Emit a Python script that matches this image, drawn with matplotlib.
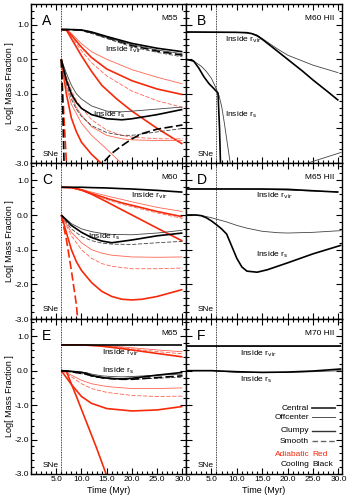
import matplotlib.pyplot as plt
import numpy as np
from matplotlib.ticker import MultipleLocator, FormatStrFormatter

plt.rcParams['font.family'] = ['Liberation Sans', 'DejaVu Sans']
plt.rcParams['axes.unicode_minus'] = False

# ---------------- data (Myr, log mass fraction) ----------------
# Panel A  M55
a_t = [6, 7, 8, 10, 12, 15, 20, 25, 30]
a_vir_k_cc = [0.86, 0.86, 0.86, 0.85, 0.79, 0.66, 0.46, 0.32, 0.22]
a_vir_k_oc = [0.86, 0.86, 0.86, 0.84, 0.77, 0.63, 0.42, 0.27, 0.16]
a_vir_k_cs = [0.86, 0.86, 0.86, 0.84, 0.77, 0.63, 0.40, 0.24, 0.12]
a_vir_k_os = [0.86, 0.86, 0.86, 0.83, 0.75, 0.60, 0.36, 0.20, 0.07]
a_vir_r_oc = [0.86, 0.86, 0.75, 0.45, 0.22, 0.00, -0.30, -0.52, -0.71]
a_vir_r_cc = [0.86, 0.86, 0.70, 0.35, 0.05, -0.28, -0.62, -0.86, -1.02]
a_vir_r_os = [0.86, 0.86, 0.66, 0.25, -0.10, -0.48, -0.92, -1.20, -1.39]
a_vir_r_cs_t = [6, 7, 8, 10, 12, 14, 17, 20, 25, 30]
a_vir_r_cs = [0.86, 0.85, 0.60, 0.10, -0.35, -0.75, -1.15, -1.50, -2.00, -2.45]

a_s_t = [6, 7, 8, 9, 10, 12, 15, 18, 20, 25, 30]
a_s_k_cc = [0, -0.60, -1.00, -1.25, -1.42, -1.60, -1.72, -1.75, -1.72, -1.60, -1.45]
a_s_k_oc = [0, -0.40, -0.75, -1.00, -1.15, -1.35, -1.50, -1.52, -1.50, -1.44, -1.38]
a_s_k_os = [0, -0.70, -1.15, -1.45, -1.65, -1.92, -2.12, -2.20, -2.20, -2.10, -2.00]
a_s_k_cs_t = [6, 6.3, 6.7, 13.5, 14.2, 16, 18, 20, 22, 25, 30]
a_s_k_cs = [0, -1.5, -4.0, -4.0, -3.0, -2.72, -2.50, -2.30, -2.15, -2.02, -1.90]
a_s_r_cs_t = [6, 6.5, 7.2]
a_s_r_cs = [0, -1.6, -3.5]
a_s_r_cc_t = [6, 7, 8, 9, 10, 12, 14]
a_s_r_cc = [0, -1.00, -1.70, -2.10, -2.40, -2.75, -3.02]
a_s_r_oc_t = [6, 7, 8, 10, 12, 15, 18]
a_s_r_oc = [0, -0.80, -1.30, -1.85, -2.20, -2.60, -3.02]
a_s_r_os = [0, -0.50, -0.90, -1.20, -1.40, -1.75, -2.05, -2.20, -2.25, -2.30, -2.30]
a_s_r_os2 = [0, -0.60, -1.05, -1.40, -1.62, -1.95, -2.20, -2.30, -2.33, -2.35, -2.35]

# Panel B  M60 HII
b_vir_t = [0, 10, 12, 13, 14, 15, 17, 20, 23, 25, 28, 30]
b_vir_cc = [0.79, 0.78, 0.77, 0.74, 0.68, 0.58, 0.35, 0.00, -0.35, -0.60, -0.95, -1.19]
b_vir_oc_t = [0, 10, 13, 14, 16, 18, 20, 25, 30]
b_vir_oc = [0.79, 0.78, 0.75, 0.70, 0.50, 0.30, 0.12, -0.17, -0.39]
b_s_cc_t = [0, 1.5, 2.5, 3.5, 4.5, 5.5, 6.3, 6.6, 6.8]
b_s_cc = [0, -0.05, -0.25, -0.50, -0.70, -0.85, -0.98, -2.00, -3.10]
b_s_oc_t = [0, 1.5, 3, 4, 5, 5.8, 6.5, 7.0, 7.5, 8.2, 8.8, 9.0, 24, 30.6]
b_s_oc = [0, -0.05, -0.20, -0.35, -0.55, -0.80, -1.05, -1.35, -1.80, -2.50, -3.10, np.nan, -3.0, -2.69]

# Panel C  M60
c_t = [6, 8, 10, 12, 15, 18, 20, 25, 30]
c_vir_k_cc = [0.80, 0.80, 0.80, 0.79, 0.78, 0.76, 0.75, 0.71, 0.66]
c_vir_r_oc = [0.80, 0.79, 0.74, 0.66, 0.55, 0.45, 0.38, 0.22, 0.10]
c_vir_r_cc = [0.80, 0.79, 0.72, 0.62, 0.48, 0.35, 0.28, 0.10, -0.05]
c_vir_r_os = [0.80, 0.79, 0.71, 0.60, 0.45, 0.31, 0.24, 0.06, -0.10]
c_vir_r_cs = [0.80, 0.79, 0.72, 0.60, 0.38, 0.15, 0.00, -0.38, -0.75]

c_s_t = [6, 7, 8, 10, 12, 14, 16, 20, 25, 30]
c_s_k_cc = [0, -0.15, -0.30, -0.50, -0.65, -0.75, -0.80, -0.72, -0.60, -0.52]
c_s_k_oc = [0, -0.12, -0.25, -0.40, -0.48, -0.53, -0.56, -0.57, -0.52, -0.44]
c_s_k_os = [0, -0.20, -0.40, -0.62, -0.74, -0.81, -0.84, -0.85, -0.80, -0.76]
c_s_r_oc = [0, -0.25, -0.50, -0.80, -1.00, -1.10, -1.16, -1.21, -1.22, -1.21]
c_s_r_os = [0, -0.30, -0.60, -1.00, -1.25, -1.40, -1.48, -1.55, -1.55, -1.53]
c_s_r_cc_t = [6, 7, 8, 9, 10, 12, 14, 16, 18, 20, 22, 25, 30]
c_s_r_cc = [0, -0.50, -1.00, -1.35, -1.60, -1.95, -2.20, -2.35, -2.43, -2.45, -2.43, -2.35, -2.15]
c_s_r_cs_t = [6, 7, 8, 9, 9.3]
c_s_r_cs = [0, -0.70, -1.60, -2.60, -3.10]

# Panel D  M65 HII
d_vir_t = [0, 10, 15, 20, 25, 30]
d_vir_cc = [0.75, 0.75, 0.75, 0.74, 0.70, 0.66]
d_vir_oc = [0.75, 0.75, 0.74, 0.72, 0.69, 0.67]
d_s_cc_t = [0, 2, 3, 4, 5, 6, 7, 8, 9, 10, 11, 12, 14, 16, 18, 20, 25, 30.6]
d_s_cc = [0, 0, -0.02, -0.08, -0.17, -0.28, -0.40, -0.55, -0.90, -1.25, -1.50, -1.62,
          -1.65, -1.58, -1.48, -1.38, -1.12, -0.87]
d_s_oc_t = [0, 3, 5, 8, 10, 12, 15, 18, 20, 25, 30.6]
d_s_oc = [0, -0.01, -0.08, -0.20, -0.30, -0.38, -0.47, -0.51, -0.52, -0.50, -0.45]

# Panel E  M65
e_vir_t = [6, 10, 14, 18, 22, 26, 30]
e_vir_k_cc = [0.75, 0.75, 0.75, 0.75, 0.75, 0.75, 0.75]
e_vir_r_oc = [0.75, 0.75, 0.73, 0.69, 0.64, 0.59, 0.55]
e_vir_r_os = [0.75, 0.75, 0.72, 0.67, 0.60, 0.54, 0.49]
e_vir_r_cc = [0.75, 0.75, 0.71, 0.64, 0.56, 0.48, 0.40]
e_s_t = [6, 8, 10, 11, 12, 14, 16, 18, 20, 25, 30]
e_s_k_cc = [0, -0.02, -0.05, -0.08, -0.14, -0.20, -0.23, -0.24, -0.22, -0.13, -0.05]
e_s_k_cs = [0, -0.03, -0.08, -0.10, -0.15, -0.20, -0.23, -0.25, -0.25, -0.20, -0.15]
e_s_k_oc = [0, -0.02, -0.04, -0.06, -0.10, -0.15, -0.17, -0.18, -0.17, -0.13, -0.10]
e_s_k_os = [0, -0.04, -0.09, -0.12, -0.16, -0.21, -0.24, -0.25, -0.25, -0.22, -0.19]
e_s_r_t = [6, 7, 8, 10, 12, 15, 20, 25, 30]
e_s_r_oc = [0, -0.05, -0.13, -0.28, -0.38, -0.46, -0.52, -0.52, -0.50]
e_s_r_os = [0, -0.07, -0.18, -0.38, -0.52, -0.63, -0.72, -0.75, -0.74]
e_s_r_cc = [0, -0.20, -0.40, -0.75, -0.95, -1.10, -1.17, -1.14, -1.04]
e_s_r_cs_t = [6, 7, 9, 11, 13, 15]
e_s_r_cs = [0, -0.02, -0.75, -1.50, -2.25, -3.05]

# Panel F  M70 HII
f_t = [0, 5, 10, 15, 20, 25, 30.6]
f_vir_cc = [0.72, 0.72, 0.72, 0.72, 0.72, 0.72, 0.72]
f_vir_oc = [0.71, 0.71, 0.71, 0.70, 0.70, 0.70, 0.71]
f_s_cc = [0.0, 0.0, -0.03, -0.05, -0.04, -0.01, 0.05]
f_s_oc = [0.0, 0.0, -0.05, -0.05, -0.05, -0.03, 0.0]

# ---------------- drawing ----------------
RED = '#f52a0a'
RED_THIN = '#ff6450'
W, H = 350, 498
fig = plt.figure(figsize=(W / 100, H / 100), dpi=100)

cols = [(31, 155), (186, 156)]
rows = [(4, 163), (163, 319), (319, 474)]
ytops = [1.6, 1.5, 1.5]


def make_ax(r, c):
    x0, w = cols[c]
    top, bot = rows[r]
    ax = fig.add_axes([x0 / W, 1 - bot / H, w / W, (bot - top) / H])
    ax.set_xlim(0, 30.7)
    ax.set_ylim(-3, ytops[r])
    ax.set_xticks([5, 10, 15, 20, 25, 30])
    ax.xaxis.set_minor_locator(MultipleLocator(1))
    ax.yaxis.set_major_locator(MultipleLocator(1))
    ax.yaxis.set_minor_locator(MultipleLocator(0.2))
    ax.xaxis.set_major_formatter(FormatStrFormatter('%.1f'))
    ax.yaxis.set_major_formatter(FormatStrFormatter('%.1f'))
    ax.tick_params(which='both', direction='in', top=True, right=True, width=0.8,
                   labelsize=6, pad=1.5)
    ax.tick_params(which='major', length=4)
    ax.tick_params(which='minor', length=2)
    ax.tick_params(labelleft=(c == 0), labelbottom=(r == 2))
    for s in ax.spines.values():
        s.set_linewidth(1.0)
    ax.axvline(6, color='k', lw=0.6, ls=(0, (1, 1)))
    ax.text(3.9, -2.74, 'SNe', fontsize=6, ha='center', va='center')
    return ax


def line(ax, t, y, color, kind):
    lw = 1.2 if kind[0] == 'c' else 0.6
    if kind[0] == 'o':
        color = '#444444' if color == 'k' else RED_THIN
    ls = '-' if kind[1] == 'c' else (0, (5, 2))
    ax.plot(t, y, color=color, lw=lw, ls=ls, solid_capstyle='butt')


def labels(ax, letter, model, vir_xy, s_xy):
    ax.text(0.07, 0.935, letter, transform=ax.transAxes, fontsize=10, va='top', ha='left')
    ax.text(0.95, 0.93, model, transform=ax.transAxes, fontsize=6, va='top', ha='right')
    ax.text(vir_xy[0], vir_xy[1], r'Inside r$_{\rm vir}$', fontsize=6, va='center')
    ax.text(s_xy[0], s_xy[1], r'Inside r$_{\rm s}$', fontsize=6, va='center')


def ylab(ax):
    ax.set_ylabel('Log[ Mass Fraction ]', fontsize=6.5)
    ax.yaxis.set_label_coords(-0.11, 0.5)


# A
ax = make_ax(0, 0)
line(ax, a_t, a_vir_r_oc, RED, 'oc')
line(ax, a_t, a_vir_r_cc, RED, 'cc')
line(ax, a_t, a_vir_r_os, RED, 'os')
line(ax, a_vir_r_cs_t, a_vir_r_cs, RED, 'cc')
line(ax, a_s_r_cs_t, a_s_r_cs, RED, 'cs')
line(ax, a_s_r_cc_t, a_s_r_cc, RED, 'cc')
line(ax, a_s_r_oc_t, a_s_r_oc, RED, 'oc')
line(ax, a_s_t, a_s_r_os, RED, 'os')
line(ax, a_s_t, a_s_r_os2, RED, 'oc')
line(ax, a_t, a_vir_k_os, 'k', 'os')
line(ax, a_t, a_vir_k_cs, 'k', 'cs')
line(ax, a_t, a_vir_k_oc, 'k', 'oc')
line(ax, a_t, a_vir_k_cc, 'k', 'cc')
line(ax, a_s_t, a_s_k_os, 'k', 'os')
line(ax, a_s_k_cs_t, a_s_k_cs, 'k', 'cs')
line(ax, a_s_t, a_s_k_oc, 'k', 'oc')
line(ax, a_s_t, a_s_k_cc, 'k', 'cc')
labels(ax, 'A', 'M55', (14.6, 0.27), (12.2, -1.59))
ylab(ax)

# B
ax = make_ax(0, 1)
line(ax, b_vir_oc_t, b_vir_oc, 'k', 'oc')
line(ax, b_vir_t, b_vir_cc, 'k', 'cc')
line(ax, b_s_oc_t, b_s_oc, 'k', 'oc')
line(ax, b_s_cc_t, b_s_cc, 'k', 'cc')
labels(ax, 'B', 'M60 HII', (7.7, 0.56), (7.7, -1.61))

# C
ax = make_ax(1, 0)
line(ax, c_t, c_vir_r_oc, RED, 'oc')
line(ax, c_t, c_vir_r_cc, RED, 'cc')
line(ax, c_t, c_vir_r_os, RED, 'os')
line(ax, c_t, c_vir_r_cs, RED, 'cc')
line(ax, c_s_t, c_s_r_oc, RED, 'oc')
line(ax, c_s_t, c_s_r_os, RED, 'os')
line(ax, c_s_r_cc_t, c_s_r_cc, RED, 'cc')
line(ax, c_s_r_cs_t, c_s_r_cs, RED, 'cs')
line(ax, c_t, c_vir_k_cc, 'k', 'cc')
line(ax, c_s_t, c_s_k_os, 'k', 'os')
line(ax, c_s_t, c_s_k_oc, 'k', 'oc')
line(ax, c_s_t, c_s_k_cc, 'k', 'cc')
labels(ax, 'C', 'M60', (19.9, 0.56), (11.3, -0.64))
ylab(ax)

# D
ax = make_ax(1, 1)
line(ax, d_vir_t, d_vir_oc, 'k', 'oc')
line(ax, d_vir_t, d_vir_cc, 'k', 'cc')
line(ax, d_s_oc_t, d_s_oc, 'k', 'oc')
line(ax, d_s_cc_t, d_s_cc, 'k', 'cc')
labels(ax, 'D', 'M65 HII', (13.8, 0.55), (13.8, -1.15))

# E
ax = make_ax(2, 0)
line(ax, e_vir_t, e_vir_r_oc, RED, 'oc')
line(ax, e_vir_t, e_vir_r_os, RED, 'os')
line(ax, e_vir_t, e_vir_r_cc, RED, 'cc')
line(ax, e_s_r_t, e_s_r_oc, RED, 'oc')
line(ax, e_s_r_t, e_s_r_os, RED, 'os')
line(ax, e_s_r_t, e_s_r_cc, RED, 'cc')
line(ax, e_s_r_cs_t, e_s_r_cs, RED, 'cc')
line(ax, e_vir_t, e_vir_k_cc, 'k', 'cc')
line(ax, e_s_t, e_s_k_os, 'k', 'os')
line(ax, e_s_t, e_s_k_oc, 'k', 'oc')
line(ax, e_s_t, e_s_k_cs, 'k', 'cs')
line(ax, e_s_t, e_s_k_cc, 'k', 'cc')
labels(ax, 'E', 'M65', (14.1, 0.53), (14.1, 0.0))
ylab(ax)
ax.set_xlabel('Time (Myr)', fontsize=6.5, labelpad=2)

# F
ax = make_ax(2, 1)
line(ax, f_t, f_vir_oc, 'k', 'oc')
line(ax, f_t, f_vir_cc, 'k', 'cc')
line(ax, f_t, f_s_oc, 'k', 'oc')
line(ax, f_t, f_s_cc, 'k', 'cc')
labels(ax, 'F', 'M70 HII', (10.6, 0.5), (10.6, -0.25))
ax.set_xlabel('Time (Myr)', fontsize=6.5, labelpad=2)

# key
tr = ax.transAxes
key = [('Central', 0.425, 1.3, '-', '#333333'), ('Offcenter', 0.365, 0.6, '-', '#333333'),
       ('Clumpy', 0.278, 1.0, '-', '#333333'), ('Smooth', 0.212, 1.0, (0, (4, 2)), '#666666')]
for name, yy, lw, ls, col in key:
    ax.text(0.79, yy, name, transform=tr, fontsize=6, ha='right', va='center')
    ax.plot([0.81, 0.955], [yy, yy], transform=tr, color=col, lw=lw, ls=ls)
ax.text(0.79, 0.128, 'Adiabatic', transform=tr, fontsize=6, ha='right', va='center', color=RED)
ax.text(0.81, 0.128, 'Red', transform=tr, fontsize=6, ha='left', va='center', color=RED)
ax.text(0.79, 0.062, 'Cooling', transform=tr, fontsize=6, ha='right', va='center')
ax.text(0.81, 0.062, 'Black', transform=tr, fontsize=6, ha='left', va='center')

fig.savefig('out.png', dpi=100)
